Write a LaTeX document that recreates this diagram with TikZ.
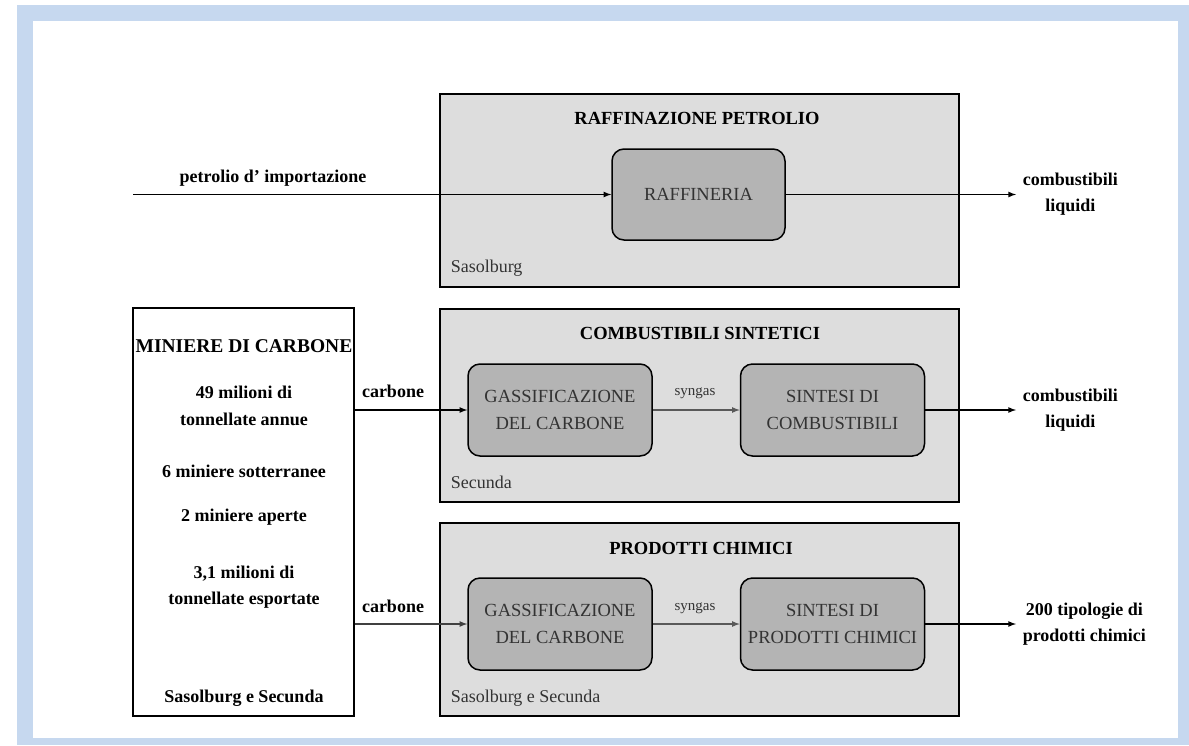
\documentclass[tikz,border=0pt]{standalone}
\usepackage{fontspec}
\setmainfont{Liberation Serif}
\usetikzlibrary{arrows,positioning}

\definecolor{framebl}{HTML}{C6D8EF}
\definecolor{panelgr}{HTML}{DDDDDD}
\definecolor{stepgr}{HTML}{B4B4B4}
\definecolor{txtgr}{HTML}{333333}

\begin{document}
\begin{tikzpicture}[x=1pt,y=-1pt,>=latex,line width=1.6pt,
    panel/.style={draw,line width=1.8pt,fill=panelgr,anchor=north west,
        minimum width=519pt,minimum height=193pt,inner sep=0pt},
    stepbox/.style={draw,line width=1.5pt,fill=stepgr,rounded corners=12pt,
        minimum width=184pt,minimum height=92pt,align=center,text=txtgr,
        font=\fontsize{18.5}{27}\selectfont},
    paneltitle/.style={anchor=base,inner sep=0pt,font=\fontsize{18.5}{22}\selectfont\bfseries},
    place/.style={anchor=base west,inner sep=0pt,text=txtgr,font=\fontsize{18}{22}\selectfont},
    flow/.style={anchor=base,inner sep=0pt,font=\fontsize{18}{22}\selectfont\bfseries},
    outlbl/.style={align=center,inner sep=0pt,font=\fontsize{18}{26}\selectfont\bfseries},
    minetxt/.style={anchor=base,inner sep=0pt,font=\fontsize{18}{22}\selectfont\bfseries},
    gaslbl/.style={anchor=base,inner sep=0pt,text=txtgr,font=\fontsize{15}{18}\selectfont}]

    % cornice
    \fill[white] (0,0) rectangle (1189,745);
    \fill[framebl] (17,5) rectangle (1189,745);
    \fill[white] (33,21) rectangle (1178,738);

    % pannelli
    \node[panel] (pnlraf) at (439,93) {};
    \node[panel] (pnlsyn) at (439,308) {};
    \node[panel] (pnlchim) at (439,522) {};

    \node[paneltitle] (tlraf) at (697,124) {RAFFINAZIONE PETROLIO};
    \node[paneltitle] (tlsyn) at (700,339) {COMBUSTIBILI SINTETICI};
    \node[paneltitle] (tlchim) at (701,554) {PRODOTTI CHIMICI};

    \node[place] (plraf) at (450,272) {Sasolburg};
    \node[place] (plsyn) at (450,488) {Secunda};
    \node[place] (plchim) at (450,702) {Sasolburg e Secunda};

    % blocchi di processo
    \node[stepbox,minimum width=173pt,minimum height=91pt] (raf) at (698.5,194.5) {RAFFINERIA};
    \node[stepbox] (gas1) at (560,410) {GASSIFICAZIONE\\DEL CARBONE};
    \node[stepbox] (sint1) at (832.5,410) {SINTESI DI\\COMBUSTIBILI};
    \node[stepbox] (gas2) at (560,624) {GASSIFICAZIONE\\DEL CARBONE};
    \node[stepbox] (sint2) at (832.5,624) {SINTESI DI\\PRODOTTI CHIMICI};

    % miniere
    \node[draw,line width=1.8pt,fill=white,minimum width=221pt,minimum height=408pt,
        inner sep=0pt] (mine) at (243.5,512) {};
    \node[minetxt,font=\fontsize{19.5}{22}\selectfont\bfseries] (mn0) at (244,352) {MINIERE DI CARBONE};
    \node[minetxt] (mn1) at (244,398) {49 milioni di};
    \node[minetxt] (mn2) at (244,425) {tonnellate annue};
    \node[minetxt] (mn3) at (244,477) {6 miniere sotterranee};
    \node[minetxt] (mn4) at (244,521) {2 miniere aperte};
    \node[minetxt] (mn5) at (244,578) {3,1 milioni di};
    \node[minetxt] (mn6) at (244,604) {tonnellate esportate};
    \node[minetxt] (mn7) at (244,702) {Sasolburg e Secunda};

    % flussi
    \coordinate (inraf) at (133,194.5);
    \coordinate (outraf) at (1016,194.5);
    \coordinate (outsyn) at (1016,410);
    \coordinate (outchim) at (1016,624);

    \draw[->] (inraf) -- (raf.west);
    \draw[->] (raf.east) -- (outraf);
    \draw[->] (mine.east |- gas1.west) -- (gas1.west);
    \draw[->,black!65] (gas1.east) -- (sint1.west);
    \draw[->] (sint1.east) -- (outsyn);
    \draw[->,black!75] (mine.east |- gas2.west) -- (gas2.west);
    \draw[->,black!65] (gas2.east) -- (sint2.west);
    \draw[->] (sint2.east) -- (outchim);

    \node[flow] (lbpet) at (273,182) {petrolio d' importazione};
    \node[flow] (lbcar1) at (393,397) {carbone};
    \node[flow] (lbcar2) at (393,612) {carbone};
    \node[gaslbl] (lbsyn1) at (695,395) {syngas};
    \node[gaslbl] (lbsyn2) at (695,610) {syngas};

    \node[outlbl,anchor=west] (prraf) [right=6pt of outraf] {combustibili\\liquidi};
    \node[outlbl,anchor=west] (prsyn) [right=6pt of outsyn] {combustibili\\liquidi};
    \node[outlbl,anchor=west] (prchim) [right=6pt of outchim] {200 tipologie di\\prodotti chimici};
\end{tikzpicture}
\end{document}
